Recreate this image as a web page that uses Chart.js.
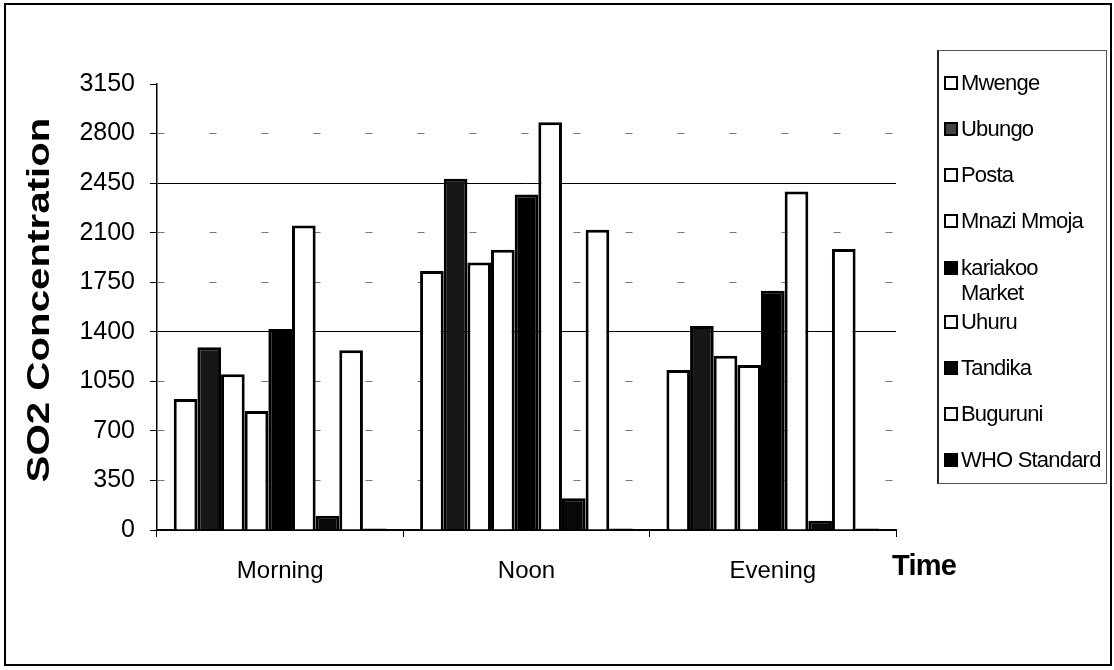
<!DOCTYPE html>
<html>
<head>
<meta charset="utf-8">
<script src="https://cdn.jsdelivr.net/npm/chart.js@4.4.1/dist/chart.umd.min.js"></script>
<style>
  body { margin: 0; background: #fff; }
  #wrap { position: relative; width: 1114px; height: 670px; font-family: "Liberation Sans", Arial, sans-serif; }
  #frame { position: absolute; left: 4px; top: 3px; width: 1104px; height: 659px; border: 2px solid #000; pointer-events: none; }
  #legend { position: absolute; left: 937px; top: 50px; width: 170px; height: 434px; border: 1px solid #555; border-left: 2px solid #222; box-sizing: border-box; padding-top: 9px; }
  .row { display: flex; align-items: center; height: 46px; padding-left: 5px; font-size: 22px; letter-spacing: -0.8px; color: #000; }
  .row.two { height: 55px; align-items: flex-start; padding-top: 11px; box-sizing: border-box; line-height: 25px; }
  .row.two .sw { margin-top: 6px; }
  .sw { width: 10px; height: 10px; border: 2px solid #000; margin-right: 3px; flex: none; }
  #timeLabel { position: absolute; left: 892px; top: 549px; font-size: 29px; font-weight: bold; letter-spacing: -0.8px; }
</style>
</head>
<body>
<div id="wrap">
  <canvas id="chartSO2" width="1114" height="670"></canvas>
  <div id="legend"></div>
  <div id="timeLabel">Time</div>
  <div id="frame"></div>
</div>
<script>
const categories = ["Morning", "Noon", "Evening"];

const mwenge     = [925, 1830, 1130];
const ubungo     = [1290, 2480, 1440];
const posta      = [1100, 1890, 1230];
const mnaziMmoja = [840, 1980, 1165];
const kariakoo   = [1420, 2370, 1690];
const uhuru      = [2150, 2880, 2390];
const tandika    = [100, 225, 65];
const buguruni   = [1270, 2120, 1985];
const whoStd     = [10, 10, 10];

const yTitle = "SO2 Concentration";

const series = [
    { name: ["Mwenge"], values: mwenge, fill: "#ffffff" },
    { name: ["Ubungo"], values: ubungo, fill: "#161616" },
    { name: ["Posta"], values: posta, fill: "#ffffff" },
    { name: ["Mnazi Mmoja"], values: mnaziMmoja, fill: "#ffffff" },
    { name: ["kariakoo", "Market"], values: kariakoo, fill: "#000000" },
    { name: ["Uhuru"], values: uhuru, fill: "#ffffff" },
    { name: ["Tandika"], values: tandika, fill: "#080808" },
    { name: ["Buguruni"], values: buguruni, fill: "#ffffff" },
    { name: ["WHO Standard"], values: whoStd, fill: "#000000" }
];

const fontFamily = "'Liberation Sans', Arial, sans-serif";
const strongLines = [0, 1400, 2450];

// legend as html, Excel-style boxes
const legendBox = document.getElementById("legend");
series.forEach(s => {
    const row = document.createElement("div");
    row.className = s.name.length > 1 ? "row two" : "row";
    const sw = document.createElement("span");
    sw.className = "sw";
    sw.style.background = s.fill === "#161616" ? "#444444" : s.fill;
    const txt = document.createElement("span");
    txt.innerHTML = s.name.join("<br>");
    row.appendChild(sw);
    row.appendChild(txt);
    legendBox.appendChild(row);
});

// the scanned title is taller than wide, so stretch it along its length
const stretchedTitle = {
    id: "stretchedTitle",
    afterDraw(chart) {
        const c = chart.ctx;
        const area = chart.chartArea;
        c.save();
        c.translate(40, (area.top + area.bottom) / 2 - 7);
        c.rotate(-Math.PI / 2);
        c.scale(1.3, 1);
        c.font = "bold 31px " + fontFamily;
        c.fillStyle = "#000000";
        c.textAlign = "center";
        c.textBaseline = "middle";
        c.fillText(yTitle, 0, 0);
        c.restore();
    }
};

document.addEventListener("DOMContentLoaded", () => {
    const ctx = document.getElementById("chartSO2");

    new Chart(ctx, {
        type: "bar",
        data: {
            labels: categories,
            datasets: series.map(s => ({
                label: s.name.join(" "),
                data: s.values,
                backgroundColor: s.fill,
                borderColor: "#000000",
                borderWidth: 3,
                categoryPercentage: 0.864,
                barPercentage: 1
            }))
        },
        options: {
            responsive: false,
            animation: false,
            devicePixelRatio: 1,
            layout: { padding: { top: 84, right: 218, left: 0, bottom: 0 } },
            plugins: {
                legend: { display: false },
                tooltip: { enabled: false }
            },
            scales: {
                x: {
                    grid: {
                        drawOnChartArea: false,
                        tickLength: 7,
                        color: "#000000"
                    },
                    border: { color: "#000000", width: 2 },
                    ticks: {
                        color: "#000000",
                        padding: 20,
                        font: { family: fontFamily, size: 24 }
                    },
                    afterFit: scale => { scale.height = 140; }
                },
                y: {
                    min: 0,
                    max: 3150,
                    ticks: {
                        stepSize: 350,
                        color: "#000000",
                        padding: 15,
                        font: { family: fontFamily, size: 25 },
                        callback: v => String(v)
                    },
                    grid: {
                        tickLength: 7,
                        tickColor: "#000000",
                        lineWidth: 1,
                        color: c => {
                            if (!c.tick) return "#000000";
                            if (strongLines.includes(c.tick.value)) return "#000000";
                            if (c.tick.value === 3150) return "rgba(0,0,0,0)";
                            return "#777777";
                        }
                    },
                    border: {
                        color: "#000000",
                        width: 1.5,
                        dash: c => (c.tick && !strongLines.includes(c.tick.value)) ? [7, 45] : []
                    },
                    afterFit: scale => { scale.width = 157; }
                }
            }
        },
        plugins: [stretchedTitle]
    });
});
</script>
</body>
</html>
